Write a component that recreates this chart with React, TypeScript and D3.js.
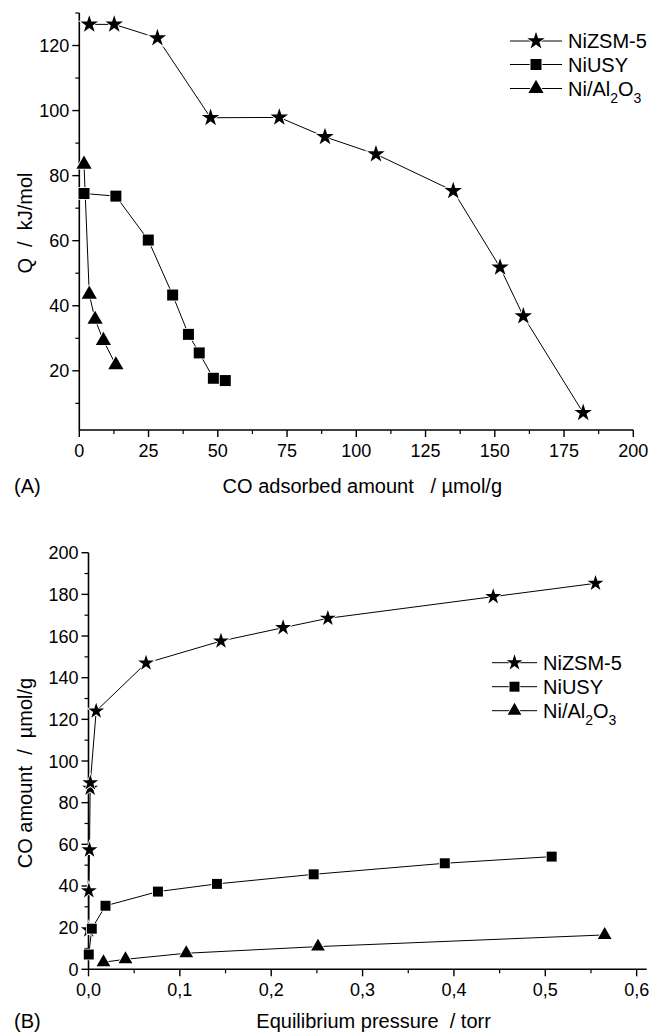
import React from "react";
import * as d3 from "d3";

// panel A: heat of adsorption vs adsorbed amount
const zsmA_x = [3.6, 12.6, 28.2, 47.4, 72.2, 88.7, 107.1, 135.0, 151.9, 160.3, 181.9];
const zsmA_y = [126.5, 126.5, 122.3, 97.8, 97.9, 91.9, 86.6, 75.3, 51.8, 36.8, 7.1];
const usyA_x = [1.7, 13.2, 24.9, 33.7, 39.4, 43.3, 48.4, 52.7];
const usyA_y = [74.5, 73.7, 60.2, 43.3, 31.2, 25.5, 17.7, 17.0];
const alA_x = [1.7, 3.6, 5.7, 8.7, 13.2];
const alA_y = [83.5, 43.5, 35.8, 29.3, 21.8];

// panel B: isotherms
const zsmB_x = [0.0003, 0.0004, 0.0011, 0.0018, 0.002, 0.0084, 0.063, 0.145, 0.213, 0.262, 0.443, 0.555];
const zsmB_y = [18.9, 37.7, 57.3, 86.9, 89.5, 124, 147, 157.6, 164, 168.5, 178.9, 185.3];
const usyB_x = [0.0003, 0.0036, 0.0186, 0.076, 0.1406, 0.2465, 0.39, 0.507];
const usyB_y = [7.1, 19.5, 30.5, 37.3, 41, 45.6, 50.9, 54.1];
const alB_x = [0.0164, 0.0405, 0.107, 0.2512, 0.565];
const alB_y = [3.4, 4.8, 7.7, 10.9, 16.5];

const ticksAx = [0, 25, 50, 75, 100, 125, 150, 175, 200];
const minorAx = [12.5, 37.5, 62.5, 87.5, 112.5, 137.5, 162.5, 187.5];
const ticksAy = [20, 40, 60, 80, 100, 120];
const minorAy = [10, 30, 50, 70, 90, 110, 130];
const ticksBx = [0, 0.1, 0.2, 0.3, 0.4, 0.5, 0.6];
const minorBx = [0.05, 0.15, 0.25, 0.35, 0.45, 0.55];
const ticksBy = [0, 20, 40, 60, 80, 100, 120, 140, 160, 180, 200];
const minorBy = [10, 30, 50, 70, 90, 110, 130, 150, 170, 190];

const seriesNames = ["NiZSM-5", "NiUSY", "Ni/Al2O3"];
const shapes = [d3.symbolStar, d3.symbolSquare, d3.symbolTriangle];

const font = "'Liberation Sans', Arial, sans-serif";

function zip(xs: number[], ys: number[]) {
  return xs.map((x, i) => [x, ys[i]] as [number, number]);
}

function Marker({ x, y, i, s }: { x: number; y: number; i: number; s: number }) {
  const sizes = [95 * s, 121 * s, 100 * s];
  const d = d3.symbol(shapes[i], sizes[i])() as string;
  return (
    <path d={d} transform={`translate(${x},${y})`} fill="#000"
      stroke="#fff" strokeWidth={1.6} style={{ paintOrder: "stroke" }} />
  );
}

function LegendLabel({ name, x, y }: { name: string; x: number; y: number }) {
  if (name === "Ni/Al2O3") {
    return (
      <text x={x} y={y} fontSize={20}>
        Ni/Al<tspan fontSize={14} dy={7}>2</tspan>
        <tspan fontSize={20} dy={-7}>O</tspan>
        <tspan fontSize={14} dy={7}>3</tspan>
      </text>
    );
  }
  return <text x={x} y={y} fontSize={20}>{name}</text>;
}

function Legend({ x0, x1, ys, s }: { x0: number; x1: number; ys: number[]; s: number }) {
  return (
    <g>
      {seriesNames.map((n, i) => (
        <g key={n}>
          <line x1={x0} x2={x1} y1={ys[i]} y2={ys[i]} stroke="#000" strokeWidth={1} />
          <Marker x={(x0 + x1) / 2} y={ys[i]} i={i} s={s} />
          <LegendLabel name={n} x={x1 + 6} y={ys[i] + 7} />
        </g>
      ))}
    </g>
  );
}

function Panel(props: any) {
  const { x, y, series, ticksX, minorX, ticksY, minorY, fmtX, xTitle, yTitle, tag,
    yTitleCy, titleY, legend, s } = props;
  const line = d3.line<[number, number]>().x(d => x(d[0])).y(d => y(d[1]));
  const [xa, xb] = x.range();
  const [ya, yb] = y.range();
  return (
    <g>
      {series.map((pts: [number, number][], i: number) => (
        <path key={"l" + i} d={line(pts) as string} fill="none" stroke="#000" strokeWidth={1} />
      ))}
      {/* axes */}
      <line x1={xa} x2={xb} y1={ya} y2={ya} stroke="#000" strokeWidth={1.6} />
      <line x1={xa} x2={xa} y1={ya} y2={yb} stroke="#000" strokeWidth={1.6} />
      {ticksX.map((t: number) => (
        <g key={"tx" + t}>
          <line x1={x(t)} x2={x(t)} y1={ya} y2={ya + 7} stroke="#000" strokeWidth={1.4} />
          <text x={x(t)} y={ya + 27} textAnchor="middle" fontSize={18}>{fmtX(t)}</text>
        </g>
      ))}
      {minorX.map((t: number) => (
        <line key={"mx" + t} x1={x(t)} x2={x(t)} y1={ya} y2={ya + 4} stroke="#000" strokeWidth={1.2} />
      ))}
      {ticksY.map((t: number) => (
        <g key={"ty" + t}>
          <line x1={xa - 7} x2={xa} y1={y(t)} y2={y(t)} stroke="#000" strokeWidth={1.4} />
          <text x={xa - 10} y={y(t) + 6.5} textAnchor="end" fontSize={18}>{t}</text>
        </g>
      ))}
      {minorY.map((t: number) => (
        <line key={"my" + t} x1={xa - 4} x2={xa} y1={y(t)} y2={y(t)} stroke="#000" strokeWidth={1.2} />
      ))}
      {series.map((pts: [number, number][], i: number) => (
        <g key={"m" + i}>
          {pts.map((p, j) => <Marker key={j} x={x(p[0])} y={y(p[1])} i={i} s={s} />)}
        </g>
      ))}
      <text transform={`translate(32,${yTitleCy}) rotate(-90)`} textAnchor="middle" fontSize={20}
        style={{ whiteSpace: "pre" }}>{yTitle}</text>
      <text x={(xa + xb) / 2 + 6} y={titleY} textAnchor="middle" fontSize={20}
        style={{ whiteSpace: "pre" }}>{xTitle}</text>
      <text x={14} y={titleY} fontSize={20}>{tag}</text>
      <Legend x0={legend.x0} x1={legend.x1} ys={legend.ys} s={s} />
    </g>
  );
}

export default function App() {
  const xA = d3.scaleLinear().domain([0, 200]).range([79.3, 633.3]);
  const yA = d3.scaleLinear().domain([1.8, 130]).range([430, 13]);
  const xB = d3.scaleLinear().domain([0, 0.611]).range([88.5, 646.7]);
  const yB = d3.scaleLinear().domain([0, 200]).range([969.3, 552.7]);
  const comma = (t: number) => t.toFixed(1).replace(".", ",");
  return (
    <svg width={652} height={1032} style={{ position: "absolute", left: 0, top: 0, background: "#fff" }}
      fontFamily={font}>
      <Panel x={xA} y={yA}
        series={[zip(zsmA_x, zsmA_y), zip(usyA_x, usyA_y), zip(alA_x, alA_y)]}
        ticksX={ticksAx} minorX={minorAx} ticksY={ticksAy} minorY={minorAy}
        fmtX={(t: number) => String(t)}
        xTitle={"CO adsorbed amount   / \u00b5mol/g"} yTitle={"Q  /  kJ/mol"} tag="(A)"
        yTitleCy={223} titleY={493}
        legend={{ x0: 510, x1: 562, ys: [41, 64.5, 88.5] }} s={1} />
      <Panel x={xB} y={yB}
        series={[zip(zsmB_x, zsmB_y), zip(usyB_x, usyB_y), zip(alB_x, alB_y)]}
        ticksX={ticksBx} minorX={minorBx} ticksY={ticksBy} minorY={minorBy}
        fmtX={comma}
        xTitle={"Equilibrium pressure  / torr"} yTitle={"CO amount  /  \u00b5mol/g"} tag="(B)"
        yTitleCy={773} titleY={1028}
        legend={{ x0: 492, x1: 537, ys: [662.7, 686.7, 710.7] }} s={0.82} />
    </svg>
  );
}
